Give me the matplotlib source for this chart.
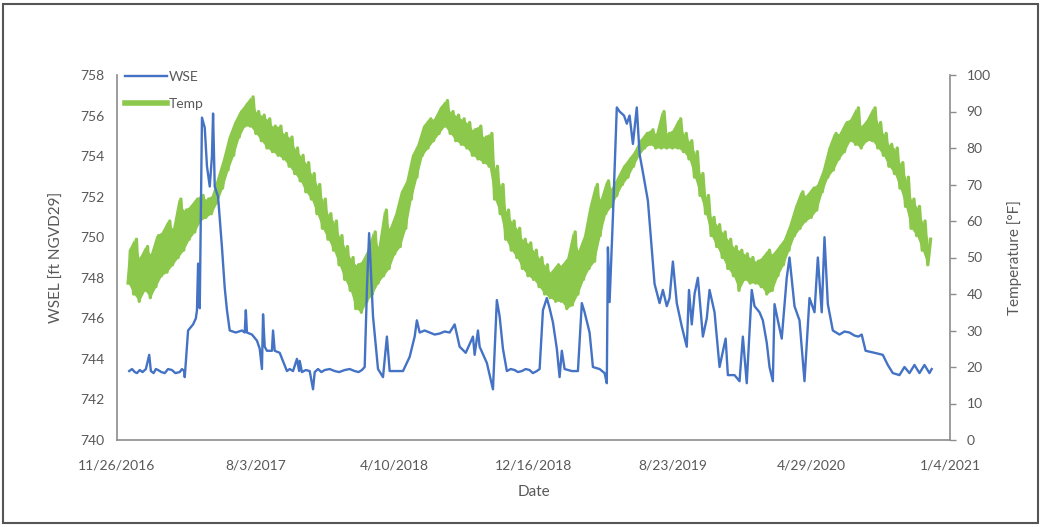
import matplotlib
matplotlib.use("Agg")
import matplotlib.pyplot as plt
from matplotlib.patches import Rectangle
import numpy as np
import pandas as pd

plt.rcParams['font.family'] = ['Lato', 'DejaVu Sans']

START = pd.Timestamp('2016-11-26')

# water surface elevation, days after 11/26/2016 and ft NGVD29
wse_day = [22, 27, 32, 36, 41, 46, 52, 58, 61, 66, 70, 74, 80, 86, 92, 99, 105, 113, 117, 121,
           122, 128, 137, 142, 144, 146, 149, 153, 158, 162, 167, 171, 173, 176, 182, 189,
           194, 198, 203, 214, 225, 230, 232, 234, 243, 252, 257, 261, 263, 266, 270, 279,
           281, 284, 293, 306, 311, 317, 324, 328, 329, 333, 340, 347, 353, 356, 362, 368,
           374, 383, 392, 400, 410, 419, 428, 435, 441, 446, 450, 454, 461, 470, 479, 486,
           491, 504, 515, 527, 536, 540, 545, 554, 563, 572, 581, 590, 599, 608, 612, 617,
           628, 641, 644, 650, 653, 666, 677, 684, 689, 695, 702, 709, 716, 722, 729, 736,
           743, 749, 756, 761, 767, 774, 779, 785, 792, 797, 801, 806, 819, 830, 837, 842,
           851, 857, 869, 878, 882, 884, 887, 893, 900, 905, 913, 918, 923, 929, 936, 941,
           947, 956, 963, 968, 977, 983, 990, 995, 1001, 1008, 1017, 1026, 1030, 1035, 1040,
           1046, 1055, 1062, 1067, 1076, 1085, 1096, 1100, 1112, 1121, 1127, 1134, 1143, 1148,
           1157, 1163, 1170, 1175, 1181, 1184, 1190, 1197, 1206, 1211, 1220, 1229, 1238, 1247,
           1256, 1262, 1269, 1274, 1280, 1289, 1301, 1310, 1319, 1328, 1335, 1341, 1348, 1364,
           1379, 1388, 1397, 1409, 1418, 1427, 1436, 1445, 1454, 1463, 1467]
wse_val = [743.4, 743.5, 743.35, 743.3, 743.45, 743.35, 743.5, 744.2, 743.4, 743.3, 743.5,
           743.45, 743.35, 743.3, 743.5, 743.45, 743.3, 743.35, 743.5, 743.4,
           743.1, 745.4, 745.7, 746.0, 746.4, 748.7, 746.5, 755.9, 755.4, 753.5, 752.5, 754.0,
           756.1, 752.5, 752.0, 749.5,
           747.5, 746.4, 745.4, 745.3, 745.4, 745.3, 746.4, 745.3, 745.2, 744.9, 744.5, 743.5,
           746.2, 744.6, 744.4, 744.4,
           745.4, 744.4, 744.3, 743.4, 743.5, 743.4, 744.0, 743.4, 743.9, 743.35, 743.45, 743.4,
           742.5, 743.35, 743.5, 743.35,
           743.45, 743.5, 743.4, 743.35, 743.45, 743.5, 743.4, 743.35, 743.45, 743.6, 747.4,
           750.2, 746.1, 743.5, 743.1, 745.1,
           743.4, 743.4, 743.4, 744.1, 745.1, 745.9, 745.3, 745.4, 745.3, 745.2, 745.25, 745.35,
           745.3, 745.7, 745.2, 744.6,
           744.3, 745.1, 744.2, 745.4, 744.6, 743.8, 742.5, 746.9, 746.1, 744.5, 743.4, 743.5,
           743.45, 743.35, 743.4, 743.5,
           743.45, 743.3, 743.4, 743.5, 746.4, 747.0, 746.5, 745.8, 744.5, 743.1, 744.4, 743.5,
           743.4, 743.4, 746.75, 746.3,
           745.3, 743.6, 743.5, 743.3, 742.8, 749.5, 746.8, 751.0, 756.4, 756.2, 756.0, 755.6,
           756.0, 754.6, 756.4, 754.1,
           753.2, 751.8, 749.4, 747.7, 746.75, 747.4, 746.6, 747.0, 748.8, 746.75, 745.6,
           744.6, 747.4, 745.7, 747.2,
           748.0, 745.1, 746.0, 747.4, 746.3, 743.6, 745.0, 743.2, 743.2, 742.9, 745.1, 742.8,
           747.4, 746.6,
           746.3, 745.9, 744.8, 743.6, 742.9, 746.7, 745.9, 745.0, 748.0, 749.0, 746.6, 745.9,
           742.9, 747.0,
           746.3, 749.0, 746.3, 750.0, 746.7, 745.4, 745.2, 745.35, 745.3, 745.15, 745.1, 745.2,
           744.4, 744.3,
           744.2, 743.7, 743.3, 743.2, 743.6, 743.3, 743.7, 743.3, 743.7, 743.3, 743.5]

# temperature band (low / high of each 10-day window), deg F
temp_day = list(range(20, 1461, 10))
temp_lo = [43, 40, 38, 41, 39, 42, 45, 46, 48, 50, 52, 55, 57, 60, 61, 62, 65, 69, 74, 78,
           83, 86, 86, 84, 82, 80, 79, 78, 77, 75, 73, 71, 68, 66, 62, 58, 55, 52, 48, 44,
           41, 36, 35, 38, 40, 43, 45, 47, 51, 53, 58, 66, 72, 78, 80, 82, 84, 86, 84, 82,
           81, 80, 78, 77, 76, 75, 66, 62, 55, 52, 50, 47, 45, 44, 42, 40, 39, 38, 38, 36,
           37, 40, 44, 47, 49, 56, 62, 64, 67, 70, 72, 75, 78, 80, 81, 80, 80, 80, 80, 80,
           79, 77, 72, 67, 62, 56, 53, 50, 47, 45, 41, 44, 43, 43, 42, 40, 41, 45, 48, 52,
           56, 58, 60, 61, 63, 68, 72, 74, 77, 79, 82, 81, 80, 82, 82, 80, 78, 75, 73, 69,
           64, 58, 56, 52, 48]
temp_hi = [52, 55, 50, 53, 51, 56, 57, 60, 58, 66, 63, 64, 66, 67, 66, 67, 72, 77, 83, 87,
           90, 92, 94, 90, 89, 88, 86, 86, 84, 83, 80, 78, 76, 73, 70, 66, 62, 60, 56, 53,
           50, 48, 49, 52, 57, 53, 63, 58, 62, 68, 71, 78, 81, 86, 88, 88, 91, 93, 90, 89,
           88, 87, 85, 86, 83, 84, 75, 70, 63, 60, 58, 55, 54, 52, 50, 48, 46, 48, 48, 50,
           57, 52, 56, 64, 70, 66, 71, 69, 72, 75, 77, 79, 82, 84, 85, 84, 90, 84, 85, 88,
           84, 82, 79, 73, 67, 61, 59, 57, 55, 53, 52, 51, 50, 49, 50, 52, 51, 53, 55, 59,
           64, 68, 67, 69, 70, 74, 80, 84, 84, 87, 88, 91, 86, 88, 91, 87, 84, 81, 80, 76,
           72, 66, 64, 60, 55]

xtick_labels = ['11/26/2016', '8/3/2017', '4/10/2018', '12/16/2018',
                '8/23/2019', '4/29/2020', '1/4/2021']

BLUE = '#4472C4'
GREEN = '#8CC84B'
GREY = '#595959'

assert len(wse_day) == len(wse_val)
assert len(temp_day) == len(temp_lo) == len(temp_hi)

wse_dates = START + pd.to_timedelta(wse_day, unit='D')
t_dates = START + pd.to_timedelta(temp_day, unit='D')
# zigzag through low and high of each window for the noisy hourly look
zz_days = np.ravel(np.column_stack([temp_day, np.array(temp_day) + 5]))
zz_vals = np.ravel(np.column_stack([temp_lo, temp_hi]))
zz_dates = START + pd.to_timedelta(zz_days, unit='D')

fig = plt.figure(figsize=(10.41, 5.27), dpi=100)
ax1 = fig.add_axes([117 / 1041, 1 - 440 / 527, (950 - 117) / 1041, (440 - 75) / 527])
ax2 = ax1.twinx()

ax2.fill_between(t_dates, temp_lo, temp_hi, color=GREEN, lw=0)
ax2.plot(zz_dates, zz_vals, color=GREEN, lw=2.4)
ax1.plot(wse_dates, wse_val, color=BLUE, lw=1.7)

ax1.set_zorder(ax2.get_zorder() + 1)
ax1.patch.set_visible(False)

tick_dates = pd.to_datetime(xtick_labels, format='%m/%d/%Y')
ax1.set_xlim(tick_dates[0], tick_dates[-1])
ax1.set_xticks(tick_dates)
ax1.set_xticklabels(xtick_labels)
ax1.set_ylim(740, 758)
ax1.set_yticks(np.arange(740, 759, 2))
ax2.set_ylim(0, 100)
ax2.set_yticks(np.arange(0, 101, 10))

for ax in (ax1, ax2):
    ax.spines['top'].set_visible(False)
    for s in ('left', 'right', 'bottom'):
        ax.spines[s].set_color('#8c8c8c')
        ax.spines[s].set_linewidth(1.2)
ax1.spines['right'].set_visible(False)
ax2.spines['left'].set_visible(False)
ax2.spines['bottom'].set_visible(False)

ax1.tick_params(axis='x', length=0, pad=14, labelsize=10, labelcolor=GREY)
ax1.tick_params(axis='y', length=0, pad=9, labelsize=10, labelcolor=GREY)
ax2.tick_params(axis='y', length=4, width=1, color='#8c8c8c', pad=8,
                labelsize=10, labelcolor=GREY)

ax1.set_xlabel('Date', fontsize=11, color=GREY, labelpad=10)
ax1.set_ylabel('WSEL [ft NGVD29]', fontsize=11, color=GREY, labelpad=12)
ax2.set_ylabel('Temperature [°F]', fontsize=11, color=GREY, labelpad=12)

h1 = plt.Line2D([], [], color=BLUE, lw=1.7)
h2 = plt.Line2D([], [], color=GREEN, lw=4)
ax1.legend([h1, h2], ['WSE', 'Temp'], loc='upper left', bbox_to_anchor=(-0.005, 1.045),
           frameon=False, fontsize=10, handlelength=3.0, handletextpad=0.1,
           labelspacing=1.1, labelcolor=GREY)

fig.add_artist(Rectangle((0.003, 0.008), 0.994, 0.985, transform=fig.transFigure,
                         fill=False, edgecolor='#555555', lw=1.5))

fig.savefig('out.png', dpi=100, facecolor='white')
